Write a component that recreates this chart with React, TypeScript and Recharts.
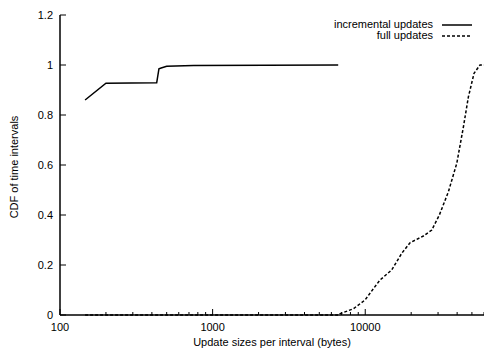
import React from 'react';
import { LineChart, Line, XAxis, YAxis, Legend } from 'recharts';

const FONT = '"Liberation Sans", Arial, Helvetica, sans-serif';

// Series names
const seriesNames = ['incremental updates', 'full updates'];

// incremental updates (x in bytes, CDF)
const incrementalX = [146, 200, 430, 445, 460, 500, 750, 6650];
const incrementalCdf = [0.86, 0.927, 0.929, 0.985, 0.988, 0.995, 0.998, 1.0];

// full updates
const fullX = [146, 6700, 6840, 8360, 9970, 11300, 12500, 14900, 17350, 19660, 24040, 27290, 30600, 35070, 39800, 44000, 47430, 51640, 56490, 60000];
const fullCdf = [0, 0, 0.005, 0.025, 0.06, 0.105, 0.14, 0.18, 0.247, 0.289, 0.316, 0.34, 0.4, 0.493, 0.607, 0.753, 0.873, 0.967, 1.0, 1.0];

// ticks
const xTicks = [100, 200, 300, 400, 500, 600, 700, 800, 900, 1000, 2000, 3000, 4000, 5000, 6000, 7000, 8000, 9000, 10000, 20000, 30000, 40000, 50000, 60000];
const xMajorTicks = [100, 1000, 10000];
const yTicks = [0, 0.2, 0.4, 0.6, 0.8, 1, 1.2];

const incrementalData = incrementalX.map((x, i) => ({ x, y: incrementalCdf[i] }));
const fullData = fullX.map((x, i) => ({ x, y: fullCdf[i] }));

const MAJOR = 6;
const MINOR = 3;

const fmtY = (v: number) => String(Number(v.toFixed(1)));

const BottomTick = (props: any) => {
  const { x, y, payload } = props;
  const v = payload.value;
  const major = xMajorTicks.includes(v);
  return (
    <g>
      <line x1={x} x2={x} y1={y} y2={y - (major ? MAJOR : MINOR)} stroke="#000" strokeWidth={1} />
      {major && (
        <text x={x} y={y + 16} textAnchor="middle" fontFamily={FONT} fontSize={11} fill="#000">
          {v}
        </text>
      )}
    </g>
  );
};

const TopTick = (props: any) => {
  const { x, y, payload } = props;
  const major = xMajorTicks.includes(payload.value);
  return <line x1={x} x2={x} y1={y} y2={y + (major ? MAJOR : MINOR)} stroke="#000" strokeWidth={1} />;
};

const LeftTick = (props: any) => {
  const { x, y, payload } = props;
  return (
    <g>
      <line x1={x} x2={x + MAJOR} y1={y} y2={y} stroke="#000" strokeWidth={1} />
      <text x={x - 7} y={y + 4} textAnchor="end" fontFamily={FONT} fontSize={11} fill="#000">
        {fmtY(payload.value)}
      </text>
    </g>
  );
};

const RightTick = (props: any) => {
  const { x, y } = props;
  return <line x1={x} x2={x - MAJOR} y1={y} y2={y} stroke="#000" strokeWidth={1} />;
};

const renderLegend = () => (
  <div style={{ fontFamily: FONT, fontSize: 11, color: '#000' }}>
    {seriesNames.map((name, i) => (
      <div
        key={name}
        style={{ display: 'flex', alignItems: 'center', justifyContent: 'flex-end', height: 11, lineHeight: '11px' }}
      >
        <span>{name}</span>
        <svg width={30} height={6} style={{ marginLeft: 9, display: 'block' }}>
          <line x1={0} x2={30} y1={3} y2={3} stroke="#000" strokeWidth={1.5} strokeDasharray={i === 1 ? '3 2' : undefined} />
        </svg>
      </div>
    ))}
  </div>
);

const YTitle = (props: any) => {
  const vb = props.viewBox || { x: 0, y: 15, width: 60, height: 300 };
  const cx = 18;
  const cy = vb.y + vb.height / 2 + 2;
  return (
    <text x={cx} y={cy} transform={`rotate(-90 ${cx} ${cy})`} textAnchor="middle" fontFamily={FONT} fontSize={11} fill="#000">
      CDF of time intervals
    </text>
  );
};

export default function App() {
  return (
    <div style={{ position: 'absolute', left: 0, top: 0, width: 484, height: 348, background: '#fff' }}>
      <LineChart width={484} height={348} margin={{ top: 15, right: 0, bottom: 0, left: 0 }}>
        <XAxis
          xAxisId="bottom"
          dataKey="x"
          type="number"
          scale="log"
          domain={[100, 60000]}
          allowDataOverflow
          ticks={xTicks}
          interval={0}
          height={33}
          tickSize={0}
          tickMargin={0}
          tickLine={false}
          tick={(p: any) => <BottomTick {...p} />}
          axisLine={{ stroke: '#000', strokeWidth: 1.5 }}
          label={{ value: 'Update sizes per interval (bytes)', position: 'insideBottom', offset: 2, fontFamily: FONT, fontSize: 11, fill: '#000' }}
        />
        <XAxis
          xAxisId="top"
          orientation="top"
          dataKey="x"
          type="number"
          scale="log"
          domain={[100, 60000]}
          allowDataOverflow
          ticks={xTicks}
          interval={0}
          height={0}
          tickSize={0}
          tickMargin={0}
          tickLine={false}
          tick={(p: any) => <TopTick {...p} />}
          axisLine={{ stroke: '#000', strokeWidth: 1.5 }}
        />
        <YAxis
          yAxisId="left"
          type="number"
          domain={[0, 1.2]}
          ticks={yTicks}
          interval={0}
          width={60}
          tickSize={0}
          tickMargin={0}
          tickLine={false}
          tick={(p: any) => <LeftTick {...p} />}
          axisLine={{ stroke: '#000', strokeWidth: 1.5 }}
          label={<YTitle />}
        />
        <YAxis
          yAxisId="right"
          orientation="right"
          type="number"
          domain={[0, 1.2]}
          ticks={yTicks}
          interval={0}
          width={0}
          tickSize={0}
          tickMargin={0}
          tickLine={false}
          tick={(p: any) => <RightTick {...p} />}
          axisLine={{ stroke: '#000', strokeWidth: 1.5 }}
        />
        <Legend
          layout="vertical"
          align="center"
          verticalAlign="middle"
          content={renderLegend}
          wrapperStyle={{ position: 'absolute', top: 19, left: 250, width: 222, height: 22 }}
        />
        <Line
          xAxisId="bottom"
          yAxisId="left"
          data={incrementalData}
          dataKey="y"
          name={seriesNames[0]}
          type="linear"
          stroke="#000"
          strokeWidth={1.5}
          dot={false}
          activeDot={false}
          isAnimationActive={false}
        />
        <Line
          xAxisId="bottom"
          yAxisId="left"
          data={fullData}
          dataKey="y"
          name={seriesNames[1]}
          type="linear"
          stroke="#000"
          strokeWidth={1.5}
          strokeDasharray="3 2"
          dot={false}
          activeDot={false}
          isAnimationActive={false}
        />
      </LineChart>
    </div>
  );
}
